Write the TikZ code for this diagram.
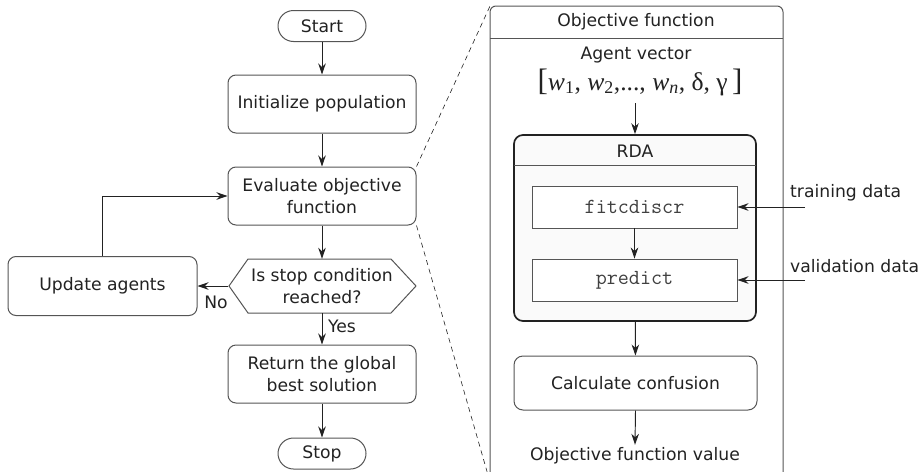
\documentclass[tikz,border=0pt]{standalone}
\usepackage{fontspec}
\setmainfont{DejaVu Sans}
\newfontfamily\vecfont{Liberation Serif}
\usetikzlibrary{arrows.meta}

\definecolor{linec}{HTML}{555555}
\definecolor{arrc}{HTML}{222222}
\definecolor{txtc}{HTML}{222222}
\definecolor{rdafill}{HTML}{FAFAFA}
\newcommand\mainsize{\fontsize{17.2}{21.5}\selectfont}

\tikzset{
  box/.style={draw=linec, line width=1pt, rounded corners=8pt, fill=white,
    minimum width=188pt, minimum height=58pt, align=center, inner sep=0pt,
    text=txtc, font=\mainsize},
  term/.style={box, rounded corners=15.5pt, minimum width=88pt, minimum height=31pt},
  codebox/.style={draw=linec, line width=0.9pt, fill=white, minimum width=205pt,
    minimum height=42pt, inner sep=0pt, text=black!75,
    font=\ttfamily\fontsize{21.5}{24}\selectfont},
  lbl/.style={text=txtc, font=\mainsize, inner sep=0pt},
  arr/.style={draw=arrc, line width=0.95pt,
    -{Stealth[length=11pt,width=7.5pt,inset=3.5pt]}},
  zoomline/.style={draw=arrc, line width=0.6pt, dash pattern=on 5pt off 4pt},
}

\begin{document}
\begin{tikzpicture}[x=1pt,y=-1pt]
\useasboundingbox (0,0) rectangle (920,471);

% ---------- main flow chart ----------
\node[term] (start) at (322,26) {Start};
\node[box]  (init)  at (322,104) {Initialize population};
\node[box]  (eval)  at (322,196) {Evaluate objective\\function};
\draw[draw=linec, line width=1pt, fill=white]
  (229,286) -- (248,259) -- (391,259) -- (416,286) -- (391,313) -- (248,313) -- cycle;
\node[lbl, align=center, minimum width=187pt, minimum height=54pt] (hex) at (322,286)
  {Is stop condition\\reached?};
\node[box, minimum width=189pt, minimum height=59pt] (upd) at (102.5,286) {Update agents};
\node[box]  (ret)   at (322,374) {Return the global\\best solution};
\node[term] (stop)  at (322,453.5) {Stop};

\draw[arr] (start) -- (init);
\draw[arr] (init) -- (eval);
\draw[arr] (eval) -- (hex);
\draw[arr] (hex.west) -- (upd.east);
\draw[arr] (upd.north) |- (eval.west);
\draw[arr] (hex.south) -- (ret.north);
\draw[arr] (ret) -- (stop);
\node[lbl] (nolbl)  at (216,302) {No};
\node[lbl] (yeslbl) at (342,326) {Yes};

% ---------- zoom-in panel: objective function ----------
\coordinate (ptl) at (490,6);
\coordinate (pbl) at (490,482);
\draw[draw=linec, line width=1pt, fill=white, rounded corners=6pt]
  (ptl) rectangle (783,482);
\draw[draw=linec, line width=1pt] (490,38) -- (783,38);
\draw[zoomline] (eval.north east) -- (ptl);
\draw[zoomline] (eval.south east) -- (pbl);

\node[lbl] (ptitle) at (636,22) {Objective function};
\node[lbl] (agent)  at (636,55) {Agent vector};
\node[text=txtc, inner sep=0pt, text depth=7pt, anchor=base,
  font=\vecfont\fontsize{25.6}{28}\selectfont] (vec) at (640,90)
  {{\fontsize{31}{31}\selectfont[}\textit{w}\textsubscript{1}, \textit{w}\textsubscript{2},..., \textit{w}\textsubscript{\textit{n}}, δ, γ\,{\fontsize{31}{31}\selectfont]}};

% RDA block
\node[draw=arrc, line width=1.7pt, rounded corners=9pt, fill=rdafill,
  minimum width=242pt, minimum height=186pt, inner sep=0pt] (rda) at (635,228) {};
\draw[draw=linec, line width=1pt] (514,165) -- (756,165);
\node[lbl] (rdatitle) at (635,151) {RDA};
\node[codebox] (fit)  at (634.5,207) {fitcdiscr};
\node[codebox] (pred) at (634.5,280) {predict};
\draw[arr] (fit) -- (pred);

\coordinate (tin) at (805,207);
\coordinate (vin) at (805,280);
\draw[arr] (tin) -- (fit.east);
\draw[arr] (vin) -- (pred.east);
\node[lbl, anchor=base west] (tlbl) at (790,197) {training data};
\node[lbl, anchor=base west] (vlbl) at (790,272) {validation data};

\node[box, rounded corners=9pt, minimum width=243pt, minimum height=54pt] (conf)
  at (635.5,383) {Calculate confusion};
\node[lbl, anchor=base, text height=13pt, inner sep=2pt] (oval) at (635,460)
  {Objective function value};

\draw[arr, shorten <=6pt] (vec.south -| rda.north) -- (rda.north);
\draw[arr] (rda) -- (conf);
\draw[arr] (conf.south) -- (oval.north);
\end{tikzpicture}
\end{document}
